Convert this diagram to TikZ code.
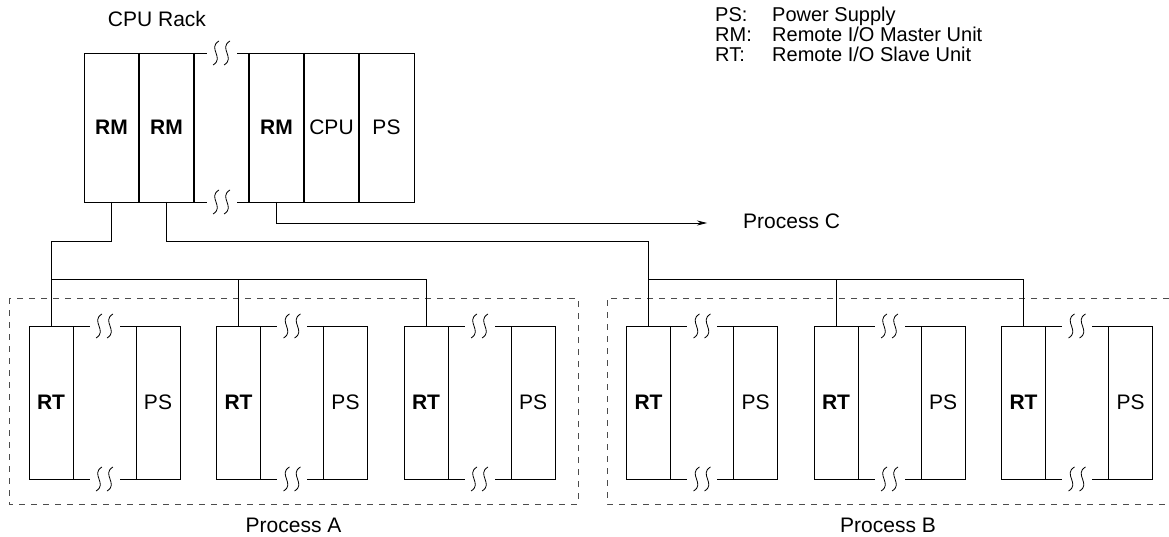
\documentclass[tikz,border=0pt]{standalone}
\usepackage{fontspec}
\setmainfont{Liberation Sans}
\usetikzlibrary{positioning, arrows.meta, calc}

\tikzset{
  slot/.style={draw, line width=0.8pt, minimum width=55pt, minimum height=149pt, inner sep=0pt, outer sep=0pt},
  rtslot/.style={draw, line width=0.8pt, minimum height=153pt, inner sep=0pt, outer sep=0pt},
  divider/.style={line width=1.6pt},
  wire/.style={line width=0.8pt},
  procbox/.style={draw=black!70, line width=0.8pt, dash pattern=on 6pt off 6pt},
  cut/.pic={
    \fill[white] (-15,-3) rectangle (15,3);
    \foreach \dx in {-5.5,5.5}
      \draw[line width=0.8pt] (\dx+3,-12) .. controls (\dx-9,-5) and (\dx+9,5) .. (\dx-3,12);
  }
}

\begin{document}
\begin{tikzpicture}[x=1pt, y=-1pt, font=\fontsize{21}{24}\selectfont]
    \useasboundingbox (0,0) rectangle (1169,537);

    % CPU Rack (top)
    \node[anchor=base] (cpurack) at (157,27) {CPU Rack};
    \node[slot, anchor=north west] (rm1) at (84,53) {\textbf{RM}};
    \node[slot, right=0pt of rm1] (rm2) {\textbf{RM}};
    \node[slot, right=0pt of rm2] (spare) {};
    \node[slot, right=0pt of spare] (rm3) {\textbf{RM}};
    \node[slot, right=0pt of rm3] (cpu) {CPU};
    \node[slot, right=0pt of cpu] (ps0) {PS};
    \foreach \s in {rm1,rm2,spare,rm3,cpu}
        \draw[divider] (\s.north east) -- (\s.south east);
    \pic at (spare.north) {cut};
    \pic at (spare.south) {cut};

    % Legend
    \foreach \k/\t [count=\j] in {PS:/Power Supply, RM:/{Remote I/O Master Unit}, RT:/{Remote I/O Slave Unit}} {
        \node[anchor=base west, inner sep=0pt, font=\fontsize{20}{22}\selectfont] (key\j) at (715,2+20*\j) {\k};
        \node[anchor=base west, inner sep=0pt, font=\fontsize{20}{22}\selectfont] (txt\j) at (772,2+20*\j) {\t};
    }

    % Slave racks
    \foreach \rx [count=\i] in {29,216.5,404,626.5,814,1001.5} {
        \node[rtslot, minimum width=44pt, anchor=north west] (rt\i) at (\rx,326) {\textbf{RT}};
        \node[rtslot, minimum width=63pt, right=0pt of rt\i] (io\i) {};
        \node[rtslot, minimum width=44pt, right=0pt of io\i] (ps\i) {PS};
        \pic at (io\i.north) {cut};
        \pic at (io\i.south) {cut};
    }

    % Process boxes
    \draw[procbox] (9,298) rectangle (578,504);
    \draw[procbox] (1169,298) -| (607,504) -- (1169,504);
    \node[anchor=base] (procA) at (293.5,532) {Process A};
    \node[anchor=base] (procB) at (888,532) {Process B};

    % Remote I/O lines
    \coordinate (bus) at (0,279);
    \draw[wire] (rm1.south) -- ++(0,39) -| (rt1.north);
    \draw[wire] (rt1.north |- bus) -| (rt3.north);
    \draw[wire] (rt2.north |- bus) -- (rt2.north);
    \draw[wire] (rm2.south) -- ++(0,39) -| (rt4.north);
    \draw[wire] (rt4.north |- bus) -| (rt6.north);
    \draw[wire] (rt5.north |- bus) -- (rt5.north);

    % Process C
    \node[anchor=base west, inner sep=0pt] (procC) at (743,229) {Process C};
    \coordinate (cend) at (707,223);
    \draw[wire, -{Stealth[length=10pt, width=5pt]}] (rm3.south) |- (cend);
\end{tikzpicture}
\end{document}
